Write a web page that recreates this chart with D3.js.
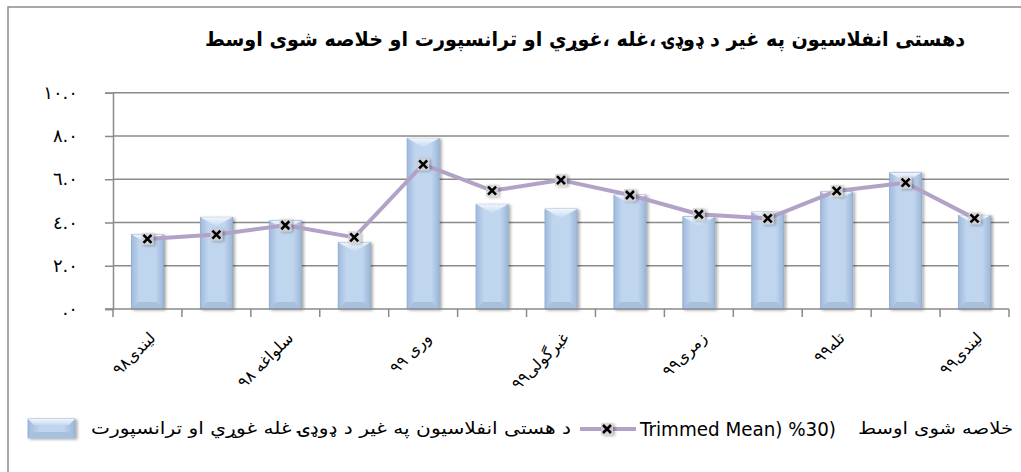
<!DOCTYPE html>
<html>
<head>
<meta charset="utf-8">
<script src="https://cdn.jsdelivr.net/npm/d3@7"></script>
<style>
  html, body { margin: 0; padding: 0; background: #fff; }
  svg { display: block; }
  text { font-family: "DejaVu Sans", "Noto Sans", sans-serif; }
</style>
</head>
<body>
<svg id="chart" width="1021" height="472"></svg>
<script>
// maanden (lindai 98 .. lindai 99)
const maanden = ['لیندی۹۸', 'مرغومی۹۸', 'سلواغه ۹۸', 'کب۹۸', 'وری ۹۹', 'غویی۹۹', 'غبرگولی۹۹',
  'چنگاښ۹۹', 'زمری۹۹', 'وږی۹۹', 'تله۹۹', 'لړم۹۹', 'لیندی۹۹'];
const zichtbaar = [0, 2, 4, 6, 8, 10, 12];

// dehesti inflatie (kolommen) en trimmed mean (lijn)
const kernInflatie = [3.45, 4.24, 4.08, 3.08, 7.89, 4.84, 4.62, 5.27, 4.27, 4.48, 5.42, 6.30, 4.33];
const trimmedMean = [3.24, 3.44, 3.87, 3.31, 6.69, 5.47, 5.96, 5.27, 4.38, 4.19, 5.46, 5.84, 4.19];

const yTicks = [0, 2, 4, 6, 8, 10];
const yTickLabels = ['.٠', '٢.٠', '٤.٠', '٦.٠', '٨.٠', '١٠.٠'];

const titel = 'دهستی انفلاسیون په غیر د ډوډۍ ،غله ،غوړي او ترانسپورت او خلاصه شوی اوسط';
const legendaKolom = 'د هستی انفلاسیون په غیر د ډوډۍ غله غوړي او ترانسپورت';
const legendaLijnAr = 'خلاصه شوی  اوسط';
const legendaLijnLat = 'Trimmed Mean) %30)';

const svg = d3.select('#chart');
const links = 113, rechts = 1009, boven = 92.7, onder = 309;
const lijnKleur = '#b3a2c7';

const defs = svg.append('defs');
const grad = defs.append('linearGradient').attr('id', 'balk').attr('x1', 0).attr('x2', 1).attr('y1', 0).attr('y2', 0);
grad.append('stop').attr('offset', '0%').attr('stop-color', '#9fbadd');
grad.append('stop').attr('offset', '25%').attr('stop-color', '#c0d5ee');
grad.append('stop').attr('offset', '75%').attr('stop-color', '#c0d5ee');
grad.append('stop').attr('offset', '100%').attr('stop-color', '#9cb7d9');
const gradTop = defs.append('linearGradient').attr('id', 'balkTop').attr('x1', 0).attr('x2', 0).attr('y1', 0).attr('y2', 1);
gradTop.append('stop').attr('offset', '0%').attr('stop-color', '#f0f6fc');
gradTop.append('stop').attr('offset', '100%').attr('stop-color', '#c6daf0');
const schaduw = defs.append('filter').attr('id', 'schaduw').attr('x', '-30%').attr('y', '-30%').attr('width', '160%').attr('height', '160%');
schaduw.append('feDropShadow').attr('dx', 2).attr('dy', 1).attr('stdDeviation', 1.5).attr('flood-color', '#000').attr('flood-opacity', 0.35);

// kader
svg.append('rect').attr('x', 8).attr('y', 7).attr('width', 1100).attr('height', 600)
  .attr('fill', 'none').attr('stroke', '#8c8c8c').attr('stroke-width', 1.5);

// titel
svg.append('text')
  .attr('x', 585).attr('y', 46)
  .attr('text-anchor', 'middle')
  .attr('font-weight', 'bold').attr('font-size', 20)
  .attr('textLength', 760).attr('lengthAdjust', 'spacingAndGlyphs')
  .attr('fill', '#000')
  .text(titel);

const x = d3.scaleBand().domain(maanden).range([links, rechts]).paddingInner(0.535).paddingOuter(0.2675);
const xStap = d3.scaleBand().domain(maanden).range([links, rechts]);
const y = d3.scaleLinear().domain([0, 10]).range([onder, boven]);

// rasterlijnen
svg.append('g').selectAll('line').data(yTicks.filter(t => t > 0)).join('line')
  .attr('x1', links).attr('x2', rechts)
  .attr('y1', d => y(d)).attr('y2', d => y(d))
  .attr('stroke', '#8a8a8a').attr('stroke-width', 1.5);

// y-as
const yAs = svg.append('g').attr('transform', `translate(${links},0)`)
  .call(d3.axisLeft(y).tickValues(yTicks).tickSize(8).tickPadding(27)
    .tickFormat((d, i) => yTickLabels[i]));
yAs.select('.domain').attr('stroke', '#8a8a8a').attr('stroke-width', 1.5);
yAs.selectAll('.tick line').attr('stroke', '#8a8a8a').attr('stroke-width', 1.5);
yAs.selectAll('.tick text').attr('font-size', 18).attr('fill', '#000')
  .attr('font-family', '"DejaVu Sans", sans-serif');

// kolommen
const b = 7;
const kol = svg.append('g').selectAll('g').data(kernInflatie).join('g')
  .attr('filter', 'url(#schaduw)');
kol.append('rect')
  .attr('x', (d, i) => x(maanden[i])).attr('y', d => y(d))
  .attr('width', x.bandwidth()).attr('height', d => onder - y(d))
  .attr('fill', 'url(#balk)').attr('stroke', '#8fa9cc').attr('stroke-width', 0.8);
kol.append('polygon')
  .attr('points', (d, i) => {
    const x0 = x(maanden[i]), w = x.bandwidth(), y0 = y(d);
    return `${x0},${y0} ${x0 + w},${y0} ${x0 + w / 2},${y0 + 9}`;
  })
  .attr('fill', 'url(#balkTop)');
kol.append('polygon')
  .attr('points', (d, i) => {
    const x0 = x(maanden[i]), w = x.bandwidth();
    return `${x0},${onder} ${x0 + w},${onder} ${x0 + w - b},${onder - b} ${x0 + b},${onder - b}`;
  })
  .attr('fill', '#a7c0de');

// x-as
svg.append('line').attr('x1', links - 8).attr('x2', rechts).attr('y1', onder).attr('y2', onder)
  .attr('stroke', '#8a8a8a').attr('stroke-width', 1.5);
const grenzen = maanden.map(m => xStap(m)).concat([rechts]);
svg.append('g').selectAll('line').data(grenzen).join('line')
  .attr('x1', d => d).attr('x2', d => d).attr('y1', onder).attr('y2', onder + 8)
  .attr('stroke', '#8a8a8a').attr('stroke-width', 1.5);

svg.append('g').selectAll('text').data(zichtbaar).join('text')
  .attr('transform', i => `translate(${x(maanden[i]) + x.bandwidth() / 2 + 9},${onder + 30}) rotate(-45)`)
  .attr('text-anchor', 'end')
  .attr('font-size', 16)
  .attr('fill', '#000')
  .text(i => maanden[i]);

// lijn trimmed mean
const cx = i => x(maanden[i]) + x.bandwidth() / 2;
svg.append('path')
  .datum(trimmedMean)
  .attr('d', d3.line().x((d, i) => cx(i)).y(d => y(d)))
  .attr('fill', 'none').attr('stroke', lijnKleur).attr('stroke-width', 4)
  .attr('stroke-linejoin', 'round');

function kruis(g, px, py) {
  g.append('rect').attr('x', px - 6).attr('y', py - 6).attr('width', 12).attr('height', 12)
    .attr('fill', '#cfcfcf').attr('opacity', 0.8).attr('filter', 'url(#schaduw)');
  g.append('path')
    .attr('d', `M${px - 4},${py - 4}L${px + 4},${py + 4}M${px + 4},${py - 4}L${px - 4},${py + 4}`)
    .attr('stroke', '#000').attr('stroke-width', 2.6);
}
const punten = svg.append('g');
trimmedMean.forEach((v, i) => kruis(punten, cx(i), y(v)));

// legenda
const leg = svg.append('g');
leg.append('rect').attr('x', 28).attr('y', 419).attr('width', 47).attr('height', 19)
  .attr('fill', 'url(#balk)').attr('stroke', '#8fa9cc').attr('stroke-width', 0.8)
  .attr('filter', 'url(#schaduw)');
leg.append('polygon').attr('points', '28,419 75,419 69,425 34,425').attr('fill', 'url(#balkTop)');
leg.append('polygon').attr('points', '28,438 75,438 69,432 34,432').attr('fill', '#a7c0de');
leg.append('text').attr('x', 571).attr('y', 434).attr('text-anchor', 'end')
  .attr('font-size', 17).attr('textLength', 480).attr('lengthAdjust', 'spacingAndGlyphs')
  .text(legendaKolom);
leg.append('line').attr('x1', 580).attr('x2', 636).attr('y1', 429).attr('y2', 429)
  .attr('stroke', lijnKleur).attr('stroke-width', 4);
kruis(leg, 607, 429);
leg.append('text').attr('x', 640).attr('y', 436)
  .attr('font-family', '"Liberation Sans Narrow", "Liberation Sans", sans-serif')
  .attr('font-size', 20).attr('textLength', 196).attr('lengthAdjust', 'spacingAndGlyphs')
  .text(legendaLijnLat);
leg.append('text').attr('x', 1013).attr('y', 434).attr('text-anchor', 'end')
  .attr('font-size', 17).attr('textLength', 155).attr('lengthAdjust', 'spacingAndGlyphs')
  .text(legendaLijnAr);
</script>
</body>
</html>
